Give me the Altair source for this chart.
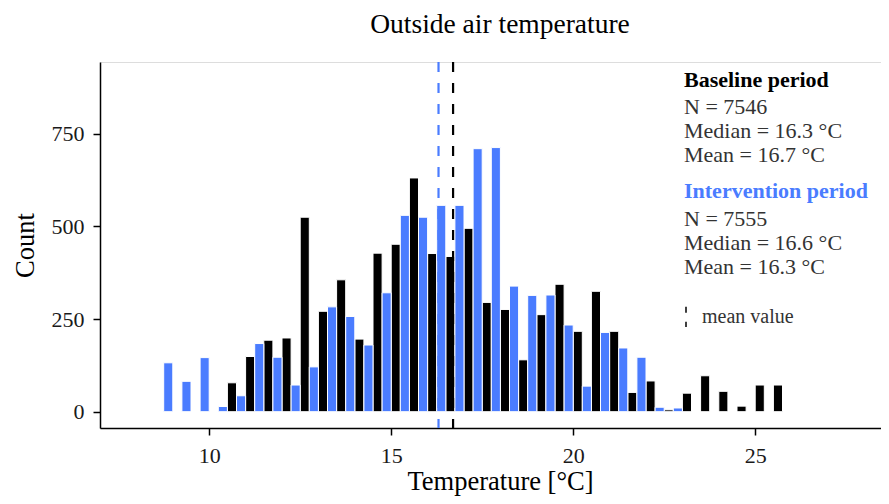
import altair as alt
import pandas as pd

# ---------------- data ----------------
bin_centers = [9.0, 9.5, 10.0, 10.5, 11.0, 11.5, 12.0, 12.5, 13.0, 13.5, 14.0, 14.5,
               15.0, 15.5, 16.0, 16.5, 17.0, 17.5, 18.0, 18.5, 19.0, 19.5, 20.0, 20.5,
               21.0, 21.5, 22.0, 22.5, 23.0, 23.5, 24.0, 24.5, 25.0, 25.5]
baseline_counts = [0, 0, 0, 78, 149, 193, 199, 525, 271, 356, 196, 428,
                   452, 631, 427, 419, 495, 295, 276, 140, 262, 344, 217, 325,
                   217, 52, 83, 5, 50, 97, 55, 15, 72, 72]
intervention_counts = [132, 82, 146, 14, 43, 184, 147, 72, 121, 283, 257, 180,
                       321, 530, 525, 557, 557, 710, 713, 339, 314, 315, 234, 69,
                       214, 172, 147, 12, 10, 0, 0, 0, 0, 0]
periods = ["Baseline period", "Intervention period"]
period_colors = ["#000000", "#4A7CFF"]
mean_values = [16.7, 16.3]

x_ticks = [10, 15, 20, 25]
y_ticks = [0, 250, 500, 750]

chart_title = ["Outside air temperature"]
header_lines = ["Baseline period", "Intervention period"]
baseline_lines = ["N = 7546", "Median = 16.3 °C", "Mean = 16.7 °C"]
intervention_lines = ["N = 7555", "Median = 16.6 °C", "Mean = 16.3 °C"]

# ---------------- tables ----------------
rows = []
for c, b, i in zip(bin_centers, baseline_counts, intervention_counts):
    rows.append({"center": c, "count": b, "period": periods[0]})
    rows.append({"center": c, "count": i, "period": periods[1]})
hist_df = pd.DataFrame(rows)
mean_df = pd.DataFrame({"period": periods, "mean": mean_values})

W, H = 781, 366
FONT = "Liberation Serif"

color_scale = alt.Scale(domain=periods, range=period_colors)
x_scale = alt.Scale(domain=[7.0, 28.456], nice=False, zero=False)
y_scale = alt.Scale(domain=[-44, 944], nice=False, zero=False)

x_axis = alt.Axis(values=x_ticks, format="d", tickSize=7, tickWidth=1.5, domainWidth=1.5,
                  labelPadding=10, labelFontSize=22, labelFont=FONT, labelColor="#1a1a1a",
                  titleFont=FONT, titleFontSize=26.5, titleFontWeight="normal", titleColor="#000",
                  titleX=400, titleY=61, titleBaseline="alphabetic", titleAlign="center",
                  domainColor="#000", tickColor="#000", grid=False)
y_axis = alt.Axis(values=y_ticks, format="d", tickSize=7, tickWidth=1.5, domainWidth=1.5,
                  labelPadding=9, labelFontSize=22, labelFont=FONT, labelColor="#1a1a1a",
                  titleFont=FONT, titleFontSize=26.5, titleFontWeight="normal", titleColor="#000",
                  titleAngle=270, titleX=-67, titleY=183, titleBaseline="alphabetic",
                  titleAlign="center", domainColor="#000", tickColor="#000", grid=False)

bars = alt.Chart(hist_df).transform_calculate(
    x0="datum.center + (datum.period == 'Baseline period' ? 0 : -0.25)"
).transform_calculate(
    x1="datum.x0 + 0.25"
).mark_bar(stroke="white", strokeWidth=1).encode(
    x=alt.X("x0:Q", scale=x_scale, axis=x_axis, title="Temperature [°C]"),
    x2="x1:Q",
    y=alt.Y("count:Q", scale=y_scale, axis=y_axis, title="Count"),
    y2=alt.datum(0),
    color=alt.Color("period:N", scale=color_scale, legend=None),
)

rules = alt.Chart(mean_df).mark_rule(strokeDash=[10, 11], strokeWidth=2.2).encode(
    x=alt.X("mean:Q", scale=x_scale),
    y=alt.value(0),
    y2=alt.value(H),
    color=alt.Color("period:N", scale=color_scale, legend=None),
)

# annotation text
hdr_df = pd.DataFrame({"text": header_lines, "py": [24.7, 135.7], "period": periods})
body_df = pd.DataFrame({"text": baseline_lines + intervention_lines,
                        "py": [52.3, 76.0, 99.7, 163.7, 188.0, 211.7]})

headers = alt.Chart(hdr_df).mark_text(
    align="left", baseline="alphabetic", font=FONT, fontSize=22, fontWeight="bold"
).encode(
    x=alt.value(584),
    y=alt.Y("py:Q", scale=None),
    text="text:N",
    color=alt.Color("period:N", scale=color_scale, legend=None),
)
body = alt.Chart(body_df).mark_text(
    align="left", baseline="alphabetic", font=FONT, fontSize=22, color="#333333"
).encode(
    x=alt.value(584),
    y=alt.Y("py:Q", scale=None),
    text="text:N",
)

legend_rule = alt.Chart(pd.DataFrame({"a": [0]})).mark_rule(
    strokeDash=[6, 9], strokeWidth=1.5, color="#000"
).encode(x=alt.value(586), y=alt.value(244.7), y2=alt.value(265))
legend_text = alt.Chart(pd.DataFrame({"t": ["mean value"]})).mark_text(
    align="left", baseline="alphabetic", font=FONT, fontSize=20, color="#333333"
).encode(x=alt.value(602), y=alt.value(261.3), text="t:N")

title_text = alt.Chart(pd.DataFrame({"t": chart_title})).mark_text(
    align="center", baseline="alphabetic", font=FONT, fontSize=27.5, color="#000"
).encode(x=alt.value(400), y=alt.value(-29), text="t:N")

chart = alt.layer(bars, rules, headers, body, legend_rule, legend_text, title_text).properties(
    width=W, height=H,
    autosize=alt.AutoSizeParams(type="none"),
    padding={"left": 92, "top": 54, "right": 0, "bottom": 68},
).configure_view(stroke=None).configure(background="white")

chart.save("out.html", embed_options={"renderer": "svg", "actions": False})
